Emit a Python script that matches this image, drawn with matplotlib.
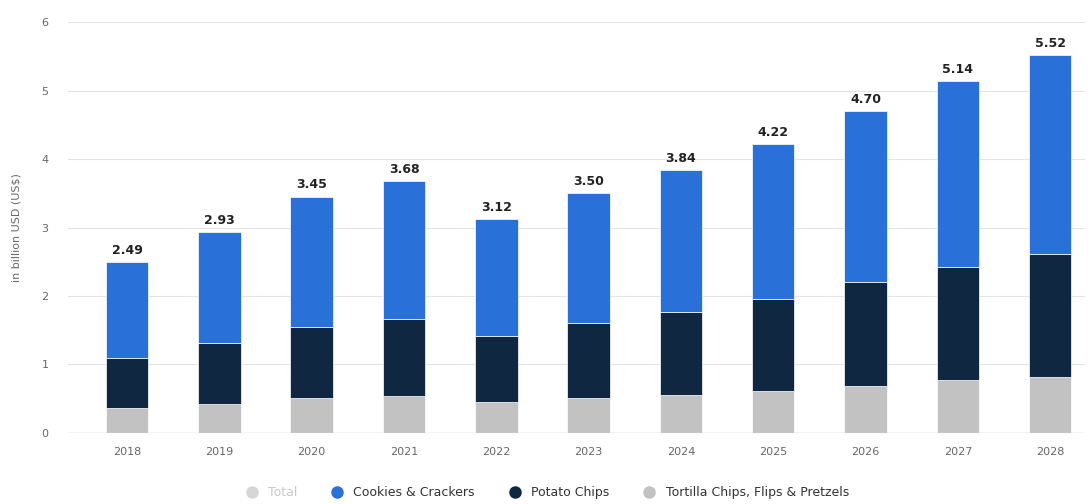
import matplotlib
matplotlib.use("Agg")
import matplotlib.pyplot as plt
from matplotlib.lines import Line2D
import numpy as np

years = ["2018", "2019", "2020", "2021", "2022", "2023", "2024", "2025", "2026", "2027", "2028"]
total = [2.49, 2.93, 3.45, 3.68, 3.12, 3.50, 3.84, 4.22, 4.70, 5.14, 5.52]
tortilla = [0.37, 0.42, 0.51, 0.54, 0.45, 0.51, 0.56, 0.61, 0.69, 0.78, 0.82]
potato = [0.73, 0.90, 1.04, 1.13, 0.97, 1.10, 1.21, 1.34, 1.51, 1.65, 1.80]
cookies = [round(t - a - b, 2) for t, a, b in zip(total, tortilla, potato)]

c_blue = "#2a70d9"
c_navy = "#0f2741"
c_gray = "#c2c2c2"

fig = plt.figure(figsize=(10.88, 5.04), dpi=100)
ax = fig.add_axes([0.0625, 0.141, 0.935, 0.815])

x = np.arange(len(years))
w = 0.46
ax.bar(x, tortilla, w, color=c_gray, edgecolor="white", linewidth=0.5, zorder=2)
ax.bar(x, potato, w, bottom=tortilla, color=c_navy, edgecolor="white", linewidth=0.5, zorder=2)
base = np.array(tortilla) + np.array(potato)
ax.bar(x, cookies, w, bottom=base, color=c_blue, edgecolor="white", linewidth=0.5, zorder=2)

for xi, t in zip(x, total):
    ax.text(xi, t + 0.08, "%.2f" % t, ha="center", va="bottom",
            fontsize=9, fontweight="bold", color="#222222")

ax.set_ylim(0, 6)
ax.set_xlim(-0.64, 10.38)
ax.set_yticks(range(0, 7))
ax.set_xticks(x)
ax.set_xticklabels(years)
ax.tick_params(axis="both", length=0, labelsize=8, colors="#666666")
ax.tick_params(axis="y", pad=14)
ax.tick_params(axis="x", pad=10)
ax.yaxis.grid(True, color="#e4e4e4", linewidth=0.8, zorder=0)
for s in ax.spines.values():
    s.set_visible(False)
ax.axhline(0, color="#d0d0d0", linewidth=1, zorder=3)
ax.set_ylabel("in billion USD (US$)", fontsize=8, color="#666666", labelpad=14)

handles = [
    Line2D([], [], marker="o", linestyle="", color="#d6d6d6", markersize=8),
    Line2D([], [], marker="o", linestyle="", color=c_blue, markersize=8),
    Line2D([], [], marker="o", linestyle="", color=c_navy, markersize=8),
    Line2D([], [], marker="o", linestyle="", color=c_gray, markersize=8),
]
labels = ["Total", "Cookies & Crackers", "Potato Chips", "Tortilla Chips, Flips & Pretzels"]
leg = fig.legend(handles, labels, loc="center", bbox_to_anchor=(0.5, 0.022), ncol=4,
                 frameon=False, fontsize=9, handletextpad=0.3, columnspacing=2.2)
for i, txt in enumerate(leg.get_texts()):
    txt.set_color("#c8c8c8" if i == 0 else "#333333")

fig.savefig("out.png", dpi=100)
